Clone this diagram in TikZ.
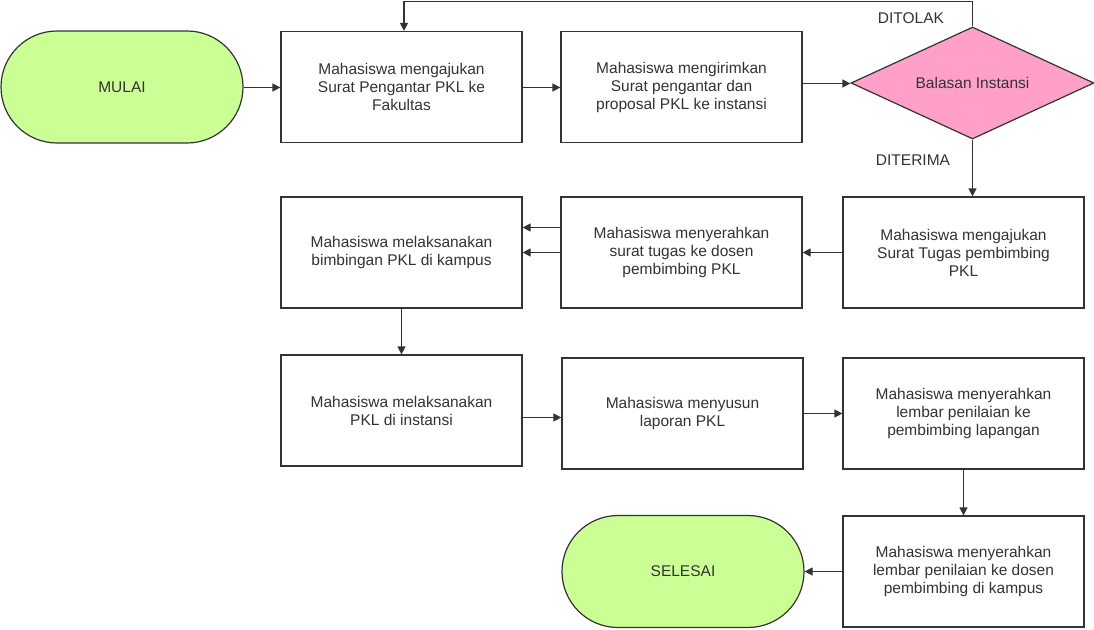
\documentclass[tikz,border=0pt]{standalone}
\usepackage{fontspec}
\setmainfont{Liberation Sans}
\usetikzlibrary{arrows.meta,shapes.geometric}
\definecolor{lineC}{HTML}{333333}
\definecolor{txtC}{HTML}{333333}
\definecolor{greenF}{HTML}{CBFF96}
\definecolor{pinkF}{HTML}{FFA0C8}
\tikzset{
  every node/.style={font=\fontsize{15.5}{18}\selectfont, text=txtC},
  boxnode/.style={draw=lineC, line width=1.2pt, fill=white, minimum width=241pt, minimum height=111pt, align=center, inner sep=2pt},
  termnode/.style={draw=lineC, line width=1.2pt, fill=greenF, minimum width=242pt, minimum height=112pt, rounded corners=56pt, align=center},
  decnode/.style={draw=lineC, line width=1.2pt, fill=pinkF, diamond, aspect=2.17, minimum width=243pt, minimum height=112pt, inner sep=0pt},
  arr/.style={draw=lineC, line width=1.2pt, -{Triangle[length=8pt,width=8pt]}},
  lbl/.style={inner sep=0pt}
}
\begin{document}
\begin{tikzpicture}[x=1pt,y=-1pt]
\useasboundingbox (0,0) rectangle (1094,629);
\node[termnode] (start) at (122,87) {MULAI};
\node[boxnode] (b1) at (401.5,87) {Mahasiswa mengajukan\\Surat Pengantar PKL ke\\Fakultas};
\node[boxnode] (b2) at (681.5,87) {Mahasiswa mengirimkan\\Surat pengantar dan\\proposal PKL ke instansi};
\node[decnode] (dec) at (972.5,83) {Balasan Instansi};
\node[lbl] (tolak) at (911,18) {DITOLAK};
\node[lbl] (terima) at (913,160) {DITERIMA};
\coordinate (loopy) at (0,1.5);

\node[boxnode] (c) at (963.5,252.5) {Mahasiswa mengajukan\\Surat Tugas pembimbing\\PKL};
\node[boxnode] (b) at (681.5,252.5) {Mahasiswa menyerahkan\\surat tugas ke dosen\\pembimbing PKL};
\node[boxnode] (a) at (401.5,252.5) {Mahasiswa melaksanakan\\bimbingan PKL di kampus};

\node[boxnode] (d) at (401.5,410.5) {Mahasiswa melaksanakan\\PKL di instansi};
\node[boxnode] (e) at (682.5,413.5) {Mahasiswa menyusun\\laporan PKL};
\node[boxnode] (f) at (963.5,413.5) {Mahasiswa menyerahkan\\lembar penilaian ke\\pembimbing lapangan};

\node[boxnode] (g) at (963.5,571.5) {Mahasiswa menyerahkan\\lembar penilaian ke dosen\\pembimbing di kampus};
\node[termnode] (end) at (683,571.5) {SELESAI};

\draw[arr] ([yshift=-0.5pt]start.east) -- ([yshift=-0.5pt]b1.west);
\draw[arr] ([yshift=-0.5pt]b1.east) -- ([yshift=-0.5pt]b2.west);
\draw[arr] ([yshift=3.5pt]b2.east) -- ([yshift=-0.5pt]dec.west);
\draw[arr] (dec.north) -- (dec.north |- loopy) -| ([xshift=2.5pt]b1.north);
\draw[arr] (dec.south) -- (dec.south |- c.north);
\draw[arr] (c.west) -- (b.east);
\draw[arr] ([yshift=25pt]b.west) -- ([yshift=25pt]a.east);
\draw[arr] (b.west) -- (a.east);
\draw[arr] (a.south) -- (d.north);
\draw[arr] ([yshift=-7pt]d.east) -- ([yshift=-4pt]e.west);
\draw[arr] (e.east) -- (f.west);
\draw[arr] (f.south) -- (g.north);
\draw[arr] (g.west) -- (end.east);
\end{tikzpicture}
\end{document}
